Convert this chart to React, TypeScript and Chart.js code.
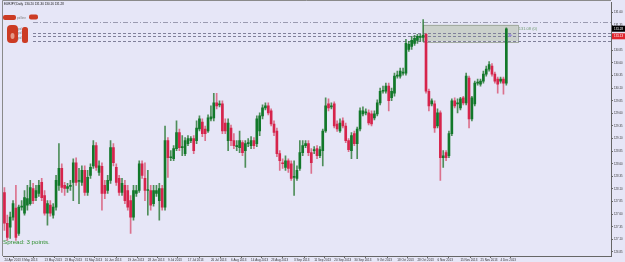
import React, { useEffect, useRef } from 'react';
import { Chart, registerables } from 'chart.js';

Chart.register(...registerables);

// ---- data (EURJPY, Daily) ----
const opens = [
  128.03,127.42,127.34,127.54,127.72,127.22,127.74,127.62,127.78,127.81,
  128.11,127.93,128.01,128.23,127.97,127.62,127.78,127.58,127.74,128.17,
  128.51,128.17,128.11,128.15,128.23,128.62,128.25,128.23,128.47,128.03,
  128.37,128.56,128.96,128.43,128.55,128.17,128.07,128.27,128.92,128.53,
  128.31,128.03,128.17,128.07,127.87,127.54,128.01,128.07,128.60,128.31,
  128.07,128.07,127.81,128.01,127.87,128.11,127.74,129.06,128.72,128.70,
  128.90,129.22,128.92,128.80,129.00,129.06,129.10,129.06,129.29,129.43,
  129.29,129.25,129.49,129.51,129.81,129.77,129.79,129.41,129.06,129.31,
  129.06,128.94,128.92,129.02,128.86,129.00,128.96,129.06,129.00,129.25,
  129.55,129.71,129.75,129.65,129.39,129.25,128.80,128.62,128.53,128.66,
  128.60,128.33,128.31,128.51,128.82,128.96,129.00,128.82,128.86,128.90,
  128.76,128.86,129.25,129.79,129.73,129.79,129.39,129.25,129.45,129.35,
  129.06,128.86,129.20,129.00,129.29,129.59,129.61,129.61,129.59,129.51,
  129.59,129.81,130.04,130.04,130.14,129.91,130.00,130.34,130.34,130.40,
  130.40,130.87,130.93,130.99,131.05,131.11,131.11,131.17,130.04,129.79,
  129.79,129.35,129.61,128.72,128.82,128.76,129.20,129.85,129.79,129.71,
  129.91,129.81,130.30,129.49,129.79,130.20,130.18,130.24,130.38,130.48,
  130.54,130.38,130.28,130.24,130.28,130.20,
];
const highs = [
  128.13,127.58,127.64,127.87,128.17,127.78,127.87,128.07,128.17,128.27,
  128.21,128.17,128.27,128.31,128.07,127.87,127.87,127.81,128.37,129.00,
  128.60,128.23,128.21,128.27,128.70,128.72,128.51,128.56,128.56,128.47,
  128.60,129.06,129.02,128.66,128.62,128.27,128.37,129.06,129.00,128.60,
  128.37,128.31,128.27,128.17,127.97,128.17,128.17,128.66,128.66,128.62,
  128.47,128.17,128.17,128.17,128.21,128.17,129.35,129.12,128.86,128.96,
  129.45,129.29,129.16,129.12,129.16,129.14,129.16,129.45,129.55,129.49,
  129.35,129.57,129.75,130.00,130.00,129.85,129.85,129.49,129.49,129.37,
  129.20,129.06,129.25,129.06,129.06,129.10,129.14,129.12,129.55,129.61,
  129.77,129.81,129.81,129.69,129.45,129.31,128.86,128.70,128.76,128.70,
  128.66,128.66,128.56,129.06,129.06,129.06,129.06,128.90,128.94,128.96,
  128.94,129.29,129.91,129.89,129.81,129.83,129.45,129.49,129.51,129.41,
  129.10,129.22,129.25,129.33,129.71,129.73,129.69,129.67,129.65,129.65,
  129.87,130.10,130.14,130.20,130.20,130.10,130.40,130.44,130.50,130.50,
  131.07,131.03,131.13,131.15,131.17,131.17,131.46,131.19,130.08,129.89,
  129.85,129.69,129.65,128.86,128.86,129.25,129.89,129.91,129.89,129.92,
  129.94,130.40,130.34,129.94,130.24,130.28,130.28,130.44,130.54,130.63,
  130.59,130.42,130.32,130.32,130.32,131.30,
];
const lows = [
  127.28,127.08,127.12,127.48,127.08,127.18,127.68,127.58,127.68,127.78,
  127.81,127.87,127.95,127.87,127.58,127.38,127.56,127.52,127.68,128.07,
  128.03,127.97,128.03,128.07,127.87,128.17,127.81,128.17,127.97,127.97,
  128.31,128.51,128.47,128.37,127.68,127.91,128.01,128.21,128.56,128.17,
  127.97,127.97,127.81,127.68,127.22,127.48,127.95,128.03,128.31,127.87,
  127.58,127.68,127.76,127.95,127.48,127.68,127.68,128.33,128.66,128.66,
  128.86,128.86,128.76,128.76,128.96,129.02,128.80,129.00,129.25,129.14,
  129.06,129.22,129.45,129.45,129.69,129.73,129.20,129.20,128.86,128.96,
  128.90,128.86,128.82,128.76,128.53,128.94,128.90,128.90,128.94,129.16,
  129.49,129.67,129.57,129.35,129.16,128.74,128.47,128.51,128.47,128.43,
  128.27,127.97,128.27,128.47,128.76,128.92,128.76,128.41,128.80,128.70,
  128.72,128.56,129.22,129.65,129.69,129.31,129.24,129.22,129.31,129.02,
  128.84,128.70,128.96,128.70,129.25,129.55,129.57,129.37,129.35,129.47,
  129.55,129.77,130.00,130.00,129.65,129.85,129.94,130.30,130.30,130.36,
  130.36,130.83,130.87,130.95,130.99,131.03,131.03,130.00,129.65,129.75,
  129.22,129.31,128.27,128.53,128.66,128.72,129.16,129.71,129.61,129.67,
  129.77,129.77,129.31,129.45,129.75,130.16,130.14,130.20,130.34,130.44,
  130.34,130.20,130.00,130.20,129.98,130.16,
];
const closes = [
  127.42,127.14,127.54,127.81,127.14,127.74,127.76,127.93,127.91,128.13,
  127.87,128.07,128.17,127.93,127.62,127.81,127.62,127.74,128.27,128.51,
  128.13,128.11,128.15,128.17,128.62,128.23,128.27,128.47,128.03,128.33,
  128.53,128.96,128.53,128.56,128.01,128.01,128.27,128.92,128.62,128.23,
  128.03,128.21,127.87,127.74,127.54,128.07,128.07,128.60,128.37,128.07,
  128.09,127.78,128.07,128.07,128.11,127.74,129.06,128.72,128.74,128.90,
  129.22,128.92,128.94,129.06,129.10,129.10,128.86,129.31,129.49,129.20,
  129.20,129.51,129.53,129.81,129.75,129.79,129.25,129.25,129.41,129.06,
  128.96,128.96,129.06,128.82,129.00,129.02,129.06,128.96,129.49,129.55,
  129.71,129.75,129.61,129.39,129.22,128.80,128.66,128.60,128.66,128.51,
  128.31,128.35,128.47,128.82,128.96,129.00,128.82,128.62,128.88,128.76,
  128.88,129.25,129.75,129.71,129.75,129.35,129.29,129.41,129.35,129.06,
  128.88,129.16,129.00,129.29,129.65,129.65,129.63,129.41,129.39,129.59,
  129.81,130.04,130.06,130.14,129.85,130.04,130.34,130.36,130.44,130.42,
  130.99,130.97,131.05,131.09,131.13,131.12,131.15,130.04,129.75,129.85,
  129.31,129.61,128.72,128.76,128.72,129.20,129.85,129.75,129.81,129.89,
  129.81,130.34,129.49,129.91,130.20,130.22,130.24,130.38,130.48,130.57,
  130.38,130.24,130.18,130.28,130.20,131.28,
];

const dateTicks = [
  '24 Apr 2013','3 May 2013','13 May 2013','23 May 2013','31 May 2013','10 Jun 2013',
  '19 Jun 2013','28 Jun 2013','9 Jul 2013','17 Jul 2013','26 Jul 2013','6 Aug 2013',
  '14 Aug 2013','23 Aug 2013','3 Sep 2013','11 Sep 2013','20 Sep 2013','30 Sep 2013',
  '9 Oct 2013','18 Oct 2013','28 Oct 2013','6 Nov 2013','15 Nov 2013','25 Nov 2013','4 Dec 2013',
];
const dateTickIndex = [0,6,14,21,28,35,43,50,57,64,72,79,86,93,101,108,115,122,130,137,144,151,159,166,173];

const priceTicks = [
  131.60,131.35,131.10,130.85,130.60,130.35,130.10,129.85,129.60,129.35,
  129.10,128.85,128.60,128.35,128.10,127.85,127.60,127.35,127.10,126.85,
];

const levelLines = [131.42, 131.19, 131.13, 131.03];
const bidPrice = 131.28;
const markedPrice = 131.13;
const zoneBox = [146, 179, 131.36, 131.03]; // from index, to index, top price, bottom price
const zoneLabel = '131.08 (0)';
const titleText = 'EURJPY,Daily  130.20 131.30 130.16 131.28';
const spreadText = 'Spread: 3 points.';

const BG = '#E6E6F7';
const BULL = '#12782a';
const BEAR = '#d6244c';
const BULL_WICK = 'rgba(40,120,50,0.8)';
const BEAR_WICK = 'rgba(214,50,85,0.65)';

const decor = {
  id: 'decor',
  beforeDraw(chart: any) {
    const { ctx, width, height } = chart;
    ctx.save();
    ctx.fillStyle = BG;
    ctx.fillRect(0, 0, width, height);
    ctx.restore();
  },
  beforeDatasetsDraw(chart: any) {
    const { ctx, chartArea: a, scales } = chart;
    const x = scales.x, y = scales.y;
    ctx.save();
    const rx0 = x.getPixelForValue(zoneBox[0]);
    const rx1 = x.getPixelForValue(zoneBox[1]);
    const ry0 = y.getPixelForValue(zoneBox[2]);
    const ry1 = y.getPixelForValue(zoneBox[3]);
    ctx.fillStyle = 'rgba(192,200,188,0.75)';
    ctx.fillRect(rx0, ry0, rx1 - rx0, ry1 - ry0);
    ctx.strokeStyle = '#a4aca2';
    ctx.lineWidth = 1;
    ctx.strokeRect(Math.round(rx0) + 0.5, Math.round(ry0) + 0.5, Math.round(rx1 - rx0), Math.round(ry1 - ry0));
    levelLines.forEach((v, k) => {
      const py = Math.round(y.getPixelForValue(v)) + 0.5;
      ctx.setLineDash(k === 0 ? [5, 2, 1, 2] : [3, 2]);
      ctx.strokeStyle = k === 0 ? '#9a9ab0' : '#80809a';
      ctx.beginPath();
      ctx.moveTo(33, py);
      ctx.lineTo(a.right, py);
      ctx.stroke();
    });
    ctx.setLineDash([]);
    // zone label
    ctx.fillStyle = '#6f9a6f';
    ctx.font = '4px "Liberation Sans", Arial, sans-serif';
    ctx.textBaseline = 'middle';
    ctx.textAlign = 'left';
    ctx.fillText(zoneLabel, rx1 + 1, ry0 + 4);
    // marker
    const mx = x.getPixelForValue(zoneBox[1] - 2.5);
    const my = y.getPixelForValue(markedPrice) - 1;
    ctx.fillStyle = '#9c90d8';
    ctx.beginPath();
    ctx.moveTo(mx - 2, my - 2);
    ctx.lineTo(mx + 2, my);
    ctx.lineTo(mx - 2, my + 2);
    ctx.closePath();
    ctx.fill();
    ctx.restore();
  },
  afterDraw(chart: any) {
    const { ctx, chartArea: a, scales, width } = chart;
    const y = scales.y;
    ctx.save();
    // frame
    ctx.strokeStyle = '#8a8a8a';
    ctx.lineWidth = 1;
    ctx.beginPath();
    ctx.moveTo(2.5, a.bottom);
    ctx.lineTo(2.5, 0.5);
    ctx.lineTo(a.right, 0.5);
    ctx.stroke();
    // price boxes
    const drawBox = (v: number, fill: string) => {
      const py = y.getPixelForValue(v);
      ctx.fillStyle = fill;
      ctx.fillRect(a.right + 1, py - 3, width - a.right - 1, 6);
      ctx.fillStyle = '#ffffff';
      ctx.font = '3px "Liberation Sans", Arial, sans-serif';
      ctx.textBaseline = 'middle';
      ctx.textAlign = 'left';
      ctx.fillText(v.toFixed(2), a.right + 3, py);
    };
    drawBox(markedPrice, '#e0242c');
    drawBox(bidPrice, '#000000');
    // title
    ctx.fillStyle = '#111';
    ctx.font = '3px "Liberation Sans", Arial, sans-serif';
    ctx.textBaseline = 'middle';
    ctx.textAlign = 'left';
    ctx.fillText(titleText, 4, 4);
    // spread text
    ctx.fillStyle = '#2f8f2f';
    ctx.font = '6.2px "Liberation Sans", Arial, sans-serif';
    ctx.textBaseline = 'top';
    ctx.fillText(spreadText, 3, 239);
    // left labels of the lines
    ctx.fillStyle = '#777';
    ctx.font = '3px "Liberation Sans", Arial, sans-serif';
    ctx.textBaseline = 'middle';
    ctx.fillText('pd line', 17, 18);
    ctx.fillText('pd', 18, 29);
    ctx.fillText('pd', 18, 33);
    ctx.fillText('pd', 18, 38);
    // red marks
    ctx.fillStyle = '#cc3b24';
    const blob = (x0: number, y0: number, w: number, h: number, r: number) => {
      ctx.beginPath();
      ctx.roundRect(x0, y0, w, h, r);
      ctx.fill();
    };
    blob(3, 15, 13, 5, 2);
    blob(29, 14.5, 9, 5, 2);
    blob(7, 25, 11, 18, 4);
    blob(22, 27, 6, 16, 2.5);
    ctx.fillStyle = '#e39a8a';
    ctx.beginPath();
    ctx.ellipse(12.5, 36, 2, 3, 0, 0, Math.PI * 2);
    ctx.fill();
    ctx.restore();
  },
};

export default function App() {
  const ref = useRef<HTMLCanvasElement>(null);
  useEffect(() => {
    document.body.style.margin = '0';
    const idx = opens.map((_, i) => i);
    const bull = idx.map((i) => closes[i] >= opens[i]);
    const chart = new Chart(ref.current as HTMLCanvasElement, {
      type: 'bar',
      data: {
        datasets: [
          {
            label: 'wick',
            data: idx.map((i) => ({ x: i, y: [lows[i], highs[i]] })) as any,
            backgroundColor: bull.map((b) => (b ? BULL_WICK : BEAR_WICK)),
            barThickness: 1,
            grouped: false,
            order: 2,
          } as any,
          {
            label: 'body',
            data: idx.map((i) => ({ x: i, y: [Math.min(opens[i], closes[i]), Math.max(opens[i], closes[i])] })) as any,
            backgroundColor: bull.map((b) => (b ? BULL : BEAR)),
            barThickness: 2,
            minBarLength: 1,
            grouped: false,
            order: 1,
          } as any,
        ],
      },
      options: {
        responsive: false,
        animation: false,
        devicePixelRatio: 1,
        layout: { padding: { left: 3, top: 1, right: 0, bottom: 0 } },
        plugins: { legend: { display: false }, tooltip: { enabled: false } },
        scales: {
          x: {
            type: 'linear',
            min: -0.5,
            max: 211.5,
            offset: false,
            grid: { drawOnChartArea: false, drawTicks: true, tickLength: 2, color: '#666' },
            border: { display: true, color: '#666' },
            afterBuildTicks: (s: any) => {
              s.ticks = dateTickIndex.map((v) => ({ value: v }));
            },
            afterFit: (s: any) => {
              s.height = 6;
            },
            ticks: {
              autoSkip: false,
              maxRotation: 0,
              minRotation: 0,
              align: 'start',
              padding: 0,
              color: '#333',
              font: { size: 3, family: '"Liberation Sans", Arial, sans-serif' },
              callback: (v: any) => {
                const k = dateTickIndex.indexOf(Number(v));
                return k >= 0 ? dateTicks[k] : '';
              },
            },
          } as any,
          y: {
            type: 'linear',
            position: 'right',
            min: 126.77,
            max: 131.797,
            grid: { drawOnChartArea: false, drawTicks: true, tickLength: 2, color: '#666' },
            border: { display: true, color: '#666' },
            afterBuildTicks: (s: any) => {
              s.ticks = [...priceTicks].sort((p, q) => p - q).map((v) => ({ value: v }));
            },
            afterFit: (s: any) => {
              s.width = 14;
            },
            ticks: {
              autoSkip: false,
              padding: 1,
              color: '#333',
              font: { size: 2.8, family: '"Liberation Sans", Arial, sans-serif' },
              callback: (v: any) => Number(v).toFixed(2),
            },
          } as any,
        },
      },
      plugins: [decor as any],
    });
    return () => chart.destroy();
  }, []);
  return <canvas ref={ref} width={625} height={262} style={{ display: 'block' }} />;
}
